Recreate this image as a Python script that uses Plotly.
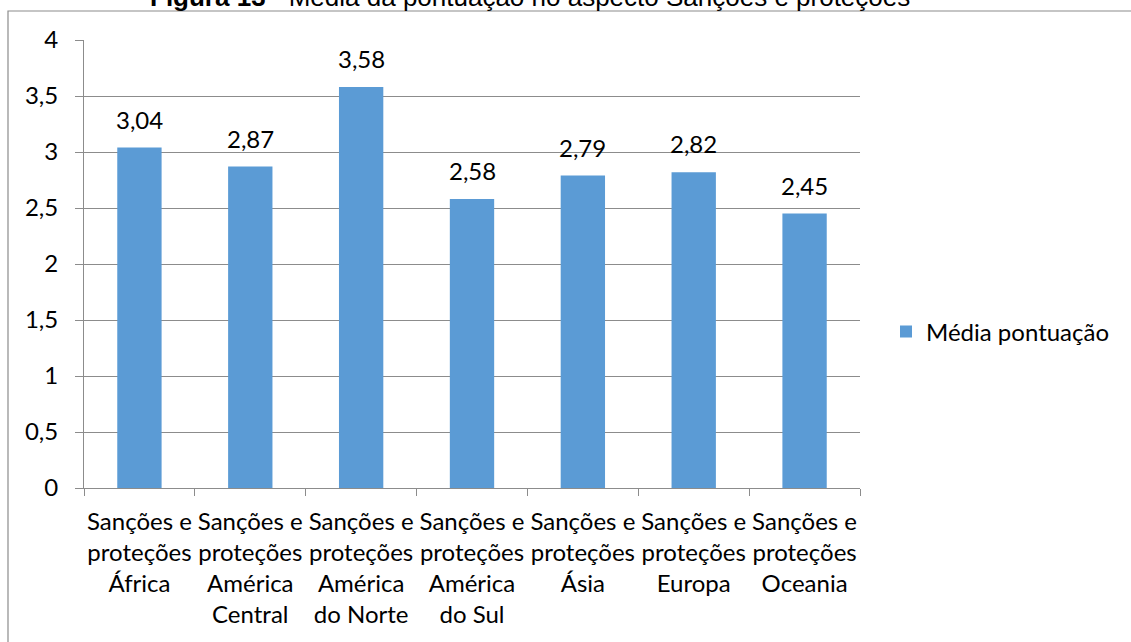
import plotly.graph_objects as go

# Chart data
regioes = [
    "Sanções e<br>proteções<br>África",
    "Sanções e<br>proteções<br>América<br>Central",
    "Sanções e<br>proteções<br>América<br>do Norte",
    "Sanções e<br>proteções<br>América<br>do Sul",
    "Sanções e<br>proteções<br>Ásia",
    "Sanções e<br>proteções<br>Europa",
    "Sanções e<br>proteções<br>Oceania",
]
media_pontuacao = [3.04, 2.87, 3.58, 2.58, 2.79, 2.82, 2.45]
y_ticks = [0, 0.5, 1, 1.5, 2, 2.5, 3, 3.5, 4]

W, H = 1131, 642
ML, MR, MT, MB = 84, 271, 40, 154
PW, PH = W - ML - MR, H - MT - MB

BAR = "#5B9BD5"
GRID = "#8C8C8C"
FONT = "Lato"
FS = 24


def px_x(p):
    return (p - ML) / PW


def px_y(p):
    return (H - MB - p) / PH


fig = go.Figure()
fig.add_trace(go.Bar(
    x=regioes,
    y=media_pontuacao,
    name="Média pontuação",
    marker=dict(color=BAR, line=dict(width=0)),
    width=0.4,
    showlegend=True,
))

# value labels above each bar
annotations = [
    dict(x=cat, y=val, xref="x", yref="y", text=f"{val:.2f}".replace(".", ","),
         showarrow=False, yanchor="bottom", yshift=12,
         font=dict(family=FONT, size=FS, color="#000000"))
    for cat, val in zip(regioes, media_pontuacao)
]

# figure caption above the frame
annotations.append(dict(
    x=px_x(530), y=px_y(14), xref="paper", yref="paper",
    text="<b>Figura 13</b> - Média da pontuação no aspecto Sanções e proteções",
    showarrow=False, xanchor="center", yanchor="bottom",
    font=dict(family="Liberation Sans", size=26, color="#000000"),
))

fig.update_layout(
    width=W, height=H,
    margin=dict(l=ML, r=MR, t=MT, b=MB, autoexpand=False),
    paper_bgcolor="white", plot_bgcolor="white",
    separators=",.",
    font=dict(family=FONT, size=FS, color="#000000"),
    bargap=0.6,
    showlegend=True,
    legend=dict(x=px_x(886), y=px_y(332), xanchor="left", yanchor="middle",
                font=dict(family=FONT, size=FS, color="#000000"),
                bgcolor="rgba(0,0,0,0)", itemwidth=30),
    annotations=annotations,
    shapes=[dict(type="rect", xref="paper", yref="paper",
                 x0=px_x(8), x1=px_x(W + 20), y0=px_y(H + 20), y1=px_y(11),
                 line=dict(color="#8C8C8C", width=1.2), layer="below")],
)

fig.update_xaxes(
    type="category",
    showline=True, linecolor=GRID, linewidth=1,
    ticks="outside", ticklen=7, tickcolor=GRID, tickson="boundaries",
    showgrid=False,
    tickangle=0,
    ticklabelstandoff=12,
    tickfont=dict(family=FONT, size=FS, color="#000000"),
)
fig.update_yaxes(
    range=[0, 4], tickvals=y_ticks,
    showgrid=True, gridcolor=GRID, gridwidth=1,
    showline=True, linecolor=GRID, linewidth=1,
    ticks="outside", ticklen=8, tickcolor=GRID,
    ticklabelstandoff=12,
    zeroline=False,
    tickfont=dict(family=FONT, size=FS, color="#000000"),
)

fig.write_html("out.html")
